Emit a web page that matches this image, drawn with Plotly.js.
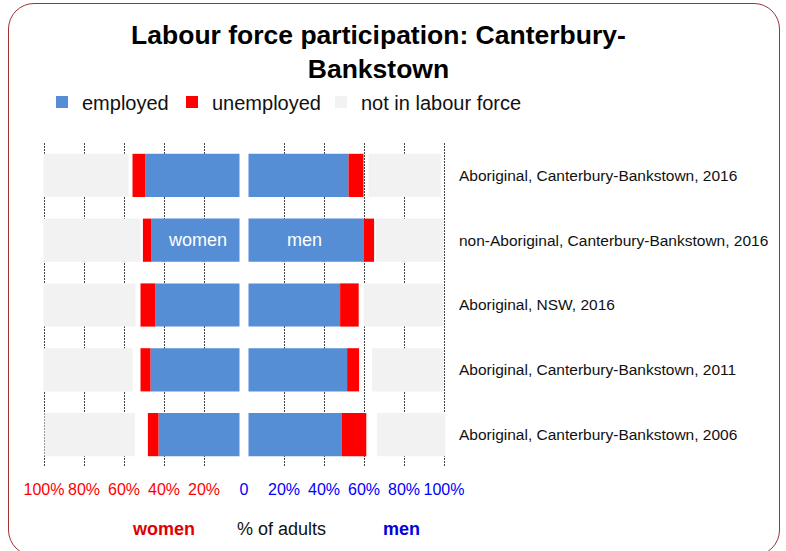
<!DOCTYPE html>
<html>
<head>
<meta charset="utf-8">
<script src="https://cdn.plot.ly/plotly-3.0.1.min.js"></script>
<style>
html,body{margin:0;padding:0;background:#fff;overflow:hidden;}
#wrap{position:relative;width:786px;height:551px;}
#chart{width:786px;height:551px;}
#frame{position:absolute;left:8px;top:3px;width:772px;height:553px;border:1.5px solid #9c3434;border-radius:26px;pointer-events:none;box-sizing:border-box;}
</style>
</head>
<body>
<div id="wrap"><div id="chart"></div><div id="frame"></div></div>
<script>
// Categories, top to bottom
const categories = [
  "Aboriginal, Canterbury-Bankstown, 2016",
  "non-Aboriginal, Canterbury-Bankstown, 2016",
  "Aboriginal, NSW, 2016",
  "Aboriginal, Canterbury-Bankstown, 2011",
  "Aboriginal, Canterbury-Bankstown, 2006"
];
// % of adults (women)
const womenEmployed   = [47.2, 44.0, 42.2, 44.5, 40.5];
const womenUnemployed = [6.3, 4.3, 7.3, 5.0, 5.3];
const womenNotStated  = [2.0, 1.2, 2.5, 4.0, 6.5];
const womenNotInLF    = [42.5, 48.5, 46.0, 44.5, 45.2];
// % of adults (men)
const menEmployed   = [50.0, 57.5, 45.8, 49.3, 46.7];
const menUnemployed = [7.5, 5.3, 9.3, 6.0, 12.2];
const menNotStated  = [2.5, 1.0, 2.5, 6.5, 5.3];
const menNotInLF    = [36.2, 33.7, 39.8, 35.8, 34.2];

const tickValues = [-100, -80, -60, -40, -20, 20, 40, 60, 80, 100];
const tickLabels = ["100%", "80%", "60%", "40%", "20%", "20%", "40%", "60%", "80%", "100%"];
const zeroLabel = "0";

const seriesNames = ["employed", "unemployed", "not in labour force"];
const colors = ["#558ED5", "#FF0000", "#F2F2F2"];
const legendIds = ["legend", "legend2", "legend3"];

const CENTER_GAP = 2.25;
const FONT = "'Liberation Sans', Arial, sans-serif";

function stack(emp, un, ns, nilf, sign) {
  const baseEmp = emp.map(() => sign * CENTER_GAP);
  const baseUn = emp.map((v) => sign * (CENTER_GAP + v));
  const baseNilf = emp.map((v, i) => sign * (CENTER_GAP + v + un[i] + ns[i]));
  return [
    { x: emp.map(v => sign * v), base: baseEmp },
    { x: un.map(v => sign * v), base: baseUn },
    { x: nilf.map(v => sign * v), base: baseNilf }
  ];
}

const women = stack(womenEmployed, womenUnemployed, womenNotStated, womenNotInLF, -1);
const men = stack(menEmployed, menUnemployed, menNotStated, menNotInLF, 1);

const traces = [];
women.forEach((s, k) => {
  traces.push({
    type: 'bar', orientation: 'h', y: categories, x: s.x, base: s.base,
    name: seriesNames[k], legendgroup: seriesNames[k], showlegend: true,
    legend: legendIds[k],
    marker: { color: colors[k], line: { width: 0 } },
    xaxis: 'x', yaxis: 'y', hoverinfo: 'skip'
  });
});
men.forEach((s, k) => {
  traces.push({
    type: 'bar', orientation: 'h', y: categories, x: s.x, base: s.base,
    name: seriesNames[k], legendgroup: seriesNames[k], showlegend: false,
    legend: legendIds[k],
    marker: { color: colors[k], line: { width: 0 } },
    xaxis: 'x2', yaxis: 'y', hoverinfo: 'skip'
  });
});

const tickText = tickLabels.map((t, i) =>
  '<span style="color:' + (tickValues[i] < 0 ? '#FF0000' : '#0000FF') + '">' + t + '</span>');

const XRANGE = [-101, 101];
const PLOT_L = 42, PLOT_W = 404;
function legendBox(px) {
  return {
    orientation: 'h', xref: 'paper', yref: 'paper',
    x: (px - PLOT_L) / PLOT_W, xanchor: 'left', y: 1.1265, yanchor: 'middle',
    font: { family: FONT, size: 20, color: '#111111' },
    bgcolor: 'rgba(0,0,0,0)', borderwidth: 0
  };
}

const layout = {
  width: 786, height: 551,
  margin: { l: PLOT_L, r: 786 - PLOT_L - PLOT_W, t: 143, b: 84, pad: 0, autoexpand: false },
  paper_bgcolor: '#ffffff', plot_bgcolor: '#ffffff',
  font: { family: FONT, color: '#111111' },
  barmode: 'overlay', bargap: 1/3,
  title: {
    text: 'Labour force participation: Canterbury-<br>Bankstown',
    font: { family: FONT, size: 26.5, weight: 'bold', color: '#000000' },
    x: 0.4815, xanchor: 'center', xref: 'container',
    y: 1 - 43.5/551, yanchor: 'middle', yref: 'container'
  },
  showlegend: true,
  legend: legendBox(42),
  legend2: legendBox(172),
  legend3: legendBox(321),
  xaxis: {
    range: XRANGE, tickmode: 'array', tickvals: tickValues, ticktext: tickText,
    showgrid: true, gridcolor: '#444444', griddash: '2px,1px', gridwidth: 1,
    zeroline: false, showline: false, ticks: '', tickfont: { size: 16 },
    ticklabelstandoff: 11, fixedrange: true, automargin: false
  },
  xaxis2: {
    overlaying: 'x', anchor: 'y', side: 'bottom',
    range: XRANGE, tickmode: 'array', tickvals: [0], ticktext: [zeroLabel],
    showgrid: false, zeroline: false, showline: false, ticks: '',
    tickfont: { size: 16, color: '#0000FF' }, ticklabelstandoff: 11, fixedrange: true,
    automargin: false
  },
  yaxis: {
    type: 'category', categoryorder: 'array', categoryarray: categories,
    autorange: 'reversed', side: 'right', ticks: '', showgrid: false,
    zeroline: false, showline: false, tickfont: { size: 15.5, color: '#111111' },
    ticklabelstandoff: 12, fixedrange: true, automargin: false
  },
  annotations: [
    { text: 'women', xref: 'x', yref: 'y', x: -23.5, y: categories[1], showarrow: false,
      font: { family: FONT, size: 18, color: '#ffffff' } },
    { text: 'men', xref: 'x', yref: 'y', x: 30, y: categories[1], showarrow: false,
      font: { family: FONT, size: 18, color: '#ffffff' } },
    { text: '<b>women</b>', xref: 'paper', yref: 'paper', x: (163 - PLOT_L) / PLOT_W, y: -0.191,
      xanchor: 'center', yanchor: 'middle', showarrow: false,
      font: { family: FONT, size: 18, color: '#E00000' } },
    { text: '% of adults', xref: 'paper', yref: 'paper', x: (281.5 - PLOT_L) / PLOT_W, y: -0.191,
      xanchor: 'center', yanchor: 'middle', showarrow: false,
      font: { family: FONT, size: 18, color: '#111111' } },
    { text: '<b>men</b>', xref: 'paper', yref: 'paper', x: (401 - PLOT_L) / PLOT_W, y: -0.191,
      xanchor: 'center', yanchor: 'middle', showarrow: false,
      font: { family: FONT, size: 18, color: '#0000E0' } }
  ]
};

Plotly.newPlot('chart', traces, layout, { staticPlot: true, displayModeBar: false });
</script>
</body>
</html>
